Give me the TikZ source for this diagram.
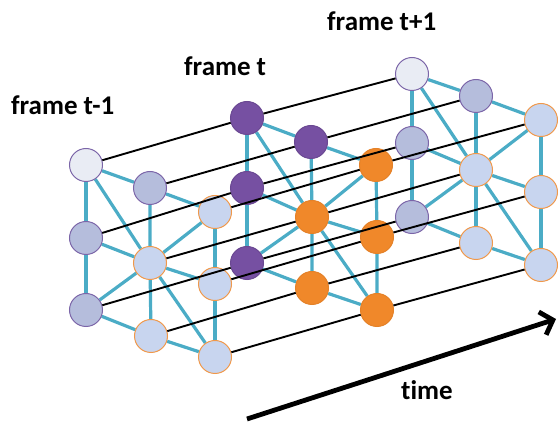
\documentclass[tikz,border=0pt]{standalone}
\usepackage{fontspec}
\setmainfont{Carlito}[Ligatures={NoCommon}]
\usetikzlibrary{arrows.meta,backgrounds}
\definecolor{cyanedge}{HTML}{4BACC6}
\definecolor{purpleborder}{HTML}{7B65A8}
\definecolor{grayblue}{HTML}{B5BDDC}
\definecolor{whitish}{HTML}{E9ECF4}
\definecolor{lightblue}{HTML}{C8D5EF}
\definecolor{orangeborder}{HTML}{F0984A}
\definecolor{purplefill}{HTML}{7650A2}
\definecolor{orangefill}{HTML}{F0882A}
\tikzset{
  nd/.style={circle,minimum size=33pt,inner sep=0pt,line width=1pt},
  pw/.style={nd,draw=purpleborder,fill=whitish},
  pb/.style={nd,draw=purpleborder,fill=grayblue},
  ob/.style={nd,draw=orangeborder,fill=lightblue},
  pf/.style={nd,draw=purplefill!90!black,fill=purplefill},
  of/.style={nd,draw=orangefill!95!black,fill=orangefill},
  spatial/.style={draw=cyanedge,line width=3.2pt},
  temporal/.style={draw=black,line width=1.9pt},
  lbl/.style={font=\fontsize{27}{31}\selectfont\bfseries,inner sep=0pt,anchor=base west}
}
\begin{document}
\begin{tikzpicture}[x=1pt,y=-1pt]
\useasboundingbox (0,0) rectangle (558,422);
% frame t-1
\node[pw] (pA1) at (86,165) {};
\node[pb] (pA2) at (86,238) {};
\node[pb] (pA3) at (86,310) {};
\node[pb] (pB1) at (150,188) {};
\node[ob] (pB2) at (150,263) {};
\node[ob] (pB3) at (151,336) {};
\node[ob] (pC1) at (215,212) {};
\node[ob] (pC2) at (215,284) {};
\node[ob] (pC3) at (215,357) {};
% frame t
\node[pf] (cA1) at (247,118) {};
\node[pf] (cA2) at (247,188) {};
\node[pf] (cA3) at (247,263) {};
\node[pf] (cB1) at (311,142) {};
\node[of] (cB2) at (312,217) {};
\node[of] (cB3) at (312,288) {};
\node[of] (cC1) at (376,165) {};
\node[of] (cC2) at (377,237) {};
\node[of] (cC3) at (377,310) {};
% frame t+1
\node[pw] (nA1) at (412,74) {};
\node[pb] (nA2) at (412,143) {};
\node[pb] (nA3) at (412,217) {};
\node[pb] (nB1) at (476,96) {};
\node[ob] (nB2) at (476,170) {};
\node[ob] (nB3) at (476,243) {};
\node[ob] (nC1) at (541,120) {};
\node[ob] (nC2) at (541,192) {};
\node[ob] (nC3) at (541,265) {};
% spatial edges
\begin{pgfonlayer}{background}
\foreach \f in {p,c,n}{
  \draw[spatial] (\f A1) -- (\f B1) -- (\f C1);
  \draw[spatial] (\f A3) -- (\f B3) -- (\f C3);
  \draw[spatial] (\f A1) -- (\f A2) -- (\f A3);
  \draw[spatial] (\f B1) -- (\f B2) -- (\f B3);
  \draw[spatial] (\f C1) -- (\f C2) -- (\f C3);
  \foreach \o in {A1,A2,A3,C1,C2,C3}{
    \draw[spatial] (\f B2) -- (\f\o);
  }
}
\end{pgfonlayer}
% temporal edges
\foreach \k in {A1,A2,A3,B1,B2,B3,C1,C2,C3}{
  \draw[temporal] (p\k) -- (c\k);
  \draw[temporal] (c\k) -- (n\k);
}
% labels
\node[lbl] (l1) at (11,115) {frame t-1};
\node[lbl] (l2) at (184,76) {frame t};
\node[lbl] (l3) at (327,31) {frame t+1};
% time arrow
\coordinate (ts) at (247,419);
\coordinate (te) at (556,319);
\draw[line width=4.8pt,-{Straight Barb[length=11pt,width=24pt]}] (ts) -- (te);
\node[lbl] (tl) at (401,400) {time};
\end{tikzpicture}
\end{document}
